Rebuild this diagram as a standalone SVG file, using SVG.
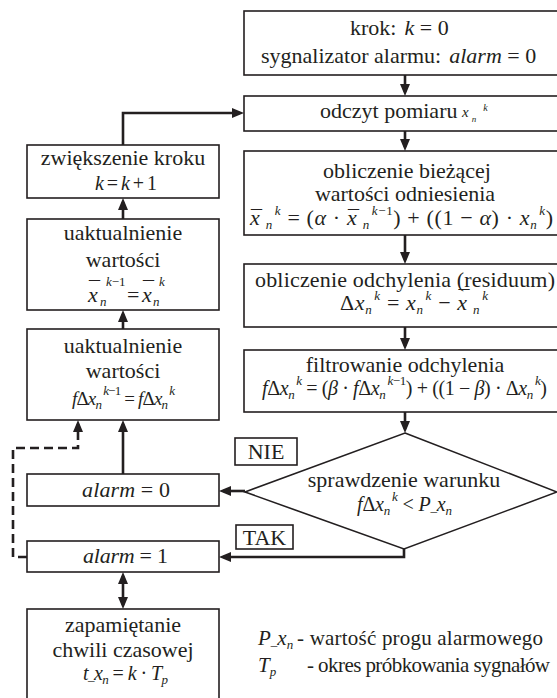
<svg xmlns="http://www.w3.org/2000/svg" width="557" height="698" viewBox="0 0 557 698">
<defs>
<style>
.bx{fill:#fff;stroke:#231f20;stroke-width:1.6}
.c{fill:none;stroke:#231f20;stroke-width:2.6}
.d{fill:none;stroke:#231f20;stroke-width:2.6;stroke-dasharray:9 5}
.t{font-family:"Liberation Serif","Times New Roman",serif;font-size:22px;fill:#231f20}
.m{text-anchor:middle}
.i{font-style:italic}
.s{font-size:13px}
.f20{font-size:20px}
.f19{font-size:19px}
.lg{font-size:21px}
</style>
<marker id="ah" markerUnits="userSpaceOnUse" markerWidth="12" markerHeight="10" viewBox="0 0 12 10" refX="8" refY="5" orient="auto-start-reverse"><path d="M0,0 L12,5 L0,10 z" fill="#231f20"/></marker>
</defs>
<rect width="557" height="698" fill="#fff"/>

<g id="start">
<rect class="bx" x="244" y="11" width="320" height="64"/>
<text class="t" x="350" y="35">krok:<tspan class="i" dx="8">k</tspan> = 0</text>
<text class="t" x="261" y="63">sygnalizator alarmu:<tspan class="i" dx="8">alarm</tspan> = 0</text>
</g>

<g id="read">
<rect class="bx" x="244" y="96" width="320" height="35"/>
<text class="t" x="320" y="118">odczyt pomiaru</text>
<text class="t i" x="462" y="117" style="font-size:15px">x<tspan style="font-size:9px" dx="3" dy="5">n</tspan><tspan style="font-size:10px" dx="7" dy="-11">k</tspan></text>
</g>

<g id="reference">
<rect class="bx" x="244" y="151" width="320" height="84"/>
<text class="t m" x="407" y="178">obliczenie bieżącej</text>
<text class="t m" x="405" y="201">wartości odniesienia</text>
<text class="t" x="250" y="225" textLength="303" lengthAdjust="spacing"><tspan class="i">x</tspan><tspan dx="-9.3">¯</tspan><tspan class="s i" dx="3" dy="4">n</tspan><tspan class="s i" dx="2" dy="-14">k</tspan><tspan dy="10"> = (</tspan><tspan class="i">α</tspan> · <tspan class="i">x</tspan><tspan dx="-9.3">¯</tspan><tspan class="s i" dx="3" dy="4">n</tspan><tspan class="s" dx="2" dy="-14"><tspan class="i">k</tspan>−1</tspan><tspan dy="10">) + ((1 − </tspan><tspan class="i">α</tspan>) · <tspan class="i">x</tspan><tspan class="s i" dy="4">n</tspan><tspan class="s i" dx="2" dy="-14">k</tspan><tspan dy="10">)</tspan></text>
</g>

<g id="residuum">
<rect class="bx" x="244" y="264" width="320" height="63"/>
<text class="t" x="255" y="287" textLength="300" lengthAdjust="spacing">obliczenie odchylenia (residuum)</text>
<text class="t" x="340" y="310" textLength="148" lengthAdjust="spacing">Δ<tspan class="i">x</tspan><tspan class="s i" dy="4">n</tspan><tspan class="s i" dx="2" dy="-14">k</tspan><tspan dy="10"> = </tspan><tspan class="i">x</tspan><tspan class="s i" dy="4">n</tspan><tspan class="s i" dx="2" dy="-14">k</tspan><tspan dy="10"> − </tspan><tspan class="i">x</tspan><tspan dx="-9.3" dy="-5">¯</tspan><tspan class="s i" dx="3" dy="9">n</tspan><tspan class="s i" dx="2" dy="-14">k</tspan></text>
</g>

<g id="filter">
<rect class="bx" x="244" y="350" width="320" height="62"/>
<text class="t m" x="405" y="372">filtrowanie odchylenia</text>
<text class="t f20" x="262" y="395" textLength="285" lengthAdjust="spacing"><tspan class="i">f</tspan>Δ<tspan class="i">x</tspan><tspan class="s i" dy="4">n</tspan><tspan class="s i" dx="2" dy="-14">k</tspan><tspan dy="10"> = (</tspan><tspan class="i">β</tspan> · <tspan class="i">f</tspan>Δ<tspan class="i">x</tspan><tspan class="s i" dy="4">n</tspan><tspan class="s" dx="2" dy="-14"><tspan class="i">k</tspan>−1</tspan><tspan dy="10">) + ((1 − </tspan><tspan class="i">β</tspan>) · Δ<tspan class="i">x</tspan><tspan class="s i" dy="4">n</tspan><tspan class="s i" dx="2" dy="-14">k</tspan><tspan dy="10">)</tspan></text>
</g>

<g id="decision">
<polygon class="bx" points="405,433 557,492 404,549 245,492"/>
<text class="t m" x="404" y="487">sprawdzenie warunku</text>
<text class="t f20" x="357" y="511" textLength="95" lengthAdjust="spacing"><tspan class="i">f</tspan>Δ<tspan class="i">x</tspan><tspan class="s i" dy="4">n</tspan><tspan class="s i" dx="2" dy="-14">k</tspan><tspan dy="10"> &lt; </tspan><tspan class="i">P</tspan><tspan class="s">_</tspan><tspan class="i">x</tspan><tspan class="s i" dy="4">n</tspan></text>
</g>

<g id="label-nie">
<rect class="bx" x="235" y="438" width="62" height="27"/>
<text class="t m" x="266" y="459">NIE</text>
</g>

<g id="label-tak">
<rect class="bx" x="236" y="525" width="57" height="24"/>
<text class="t m" x="264.5" y="545">TAK</text>
</g>

<g id="increment">
<rect class="bx" x="27" y="145" width="192" height="53"/>
<text class="t m" x="123" y="165">zwiększenie kroku</text>
<text class="t f20" x="95" y="190" textLength="62" lengthAdjust="spacing"><tspan class="i">k</tspan> = <tspan class="i">k</tspan> + 1</text>
</g>

<g id="update-x">
<rect class="bx" x="27" y="219" width="192" height="91"/>
<text class="t m" x="123" y="240">uaktualnienie</text>
<text class="t m" x="123" y="267">wartości</text>
<text class="t"><tspan x="89" y="296">¯</tspan><tspan class="i" x="88" y="302">x</tspan><tspan class="s i" x="100" y="306">n</tspan><tspan class="s" x="106" y="286"><tspan class="i">k</tspan>−1</tspan><tspan x="127" y="302">=</tspan><tspan x="143" y="296">¯</tspan><tspan class="i" x="142" y="302">x</tspan><tspan class="s i" x="153" y="306">n</tspan><tspan class="s i" x="159" y="286">k</tspan></text>
</g>

<g id="update-f">
<rect class="bx" x="27" y="329" width="192" height="91"/>
<text class="t m" x="123" y="353">uaktualnienie</text>
<text class="t m" x="123" y="378">wartości</text>
<text class="t f19" x="72" y="405" textLength="103" lengthAdjust="spacing"><tspan class="i">f</tspan>Δ<tspan class="i">x</tspan><tspan class="s i" dy="4">n</tspan><tspan class="s" dx="2" dy="-14"><tspan class="i">k</tspan>−1</tspan><tspan dy="10"> = </tspan><tspan class="i">f</tspan>Δ<tspan class="i">x</tspan><tspan class="s i" dy="4">n</tspan><tspan class="s i" dx="2" dy="-14">k</tspan></text>
</g>

<g id="alarm0">
<rect class="bx" x="27" y="474" width="192" height="32"/>
<text class="t" x="82" y="497" textLength="88" lengthAdjust="spacing"><tspan class="i">alarm</tspan> = 0</text>
</g>

<g id="alarm1">
<rect class="bx" x="27" y="541" width="192" height="31"/>
<text class="t" x="83" y="563" textLength="85" lengthAdjust="spacing"><tspan class="i">alarm</tspan> = 1</text>
</g>

<g id="store">
<rect class="bx" x="27" y="609" width="192" height="95"/>
<text class="t m" x="123" y="632">zapamiętanie</text>
<text class="t m" x="123" y="657">chwili czasowej</text>
<text class="t f20" x="83" y="680" textLength="85" lengthAdjust="spacing"><tspan class="i">t</tspan><tspan class="s">_</tspan><tspan class="i">x</tspan><tspan class="s i" dy="4">n</tspan><tspan dy="-4"> = </tspan><tspan class="i">k</tspan> · <tspan class="i">T</tspan><tspan class="s i" dy="4">p</tspan></text>
</g>

<g id="legend">
<text class="t lg" x="258" y="645"><tspan class="i">P</tspan><tspan class="s">_</tspan><tspan class="i">x</tspan><tspan class="s i" dy="4">n</tspan></text>
<text class="t lg" x="297" y="645" textLength="246" lengthAdjust="spacing">- wartość progu alarmowego</text>
<text class="t lg" x="258" y="672"><tspan class="i">T</tspan><tspan class="s i" dy="4">p</tspan></text>
<text class="t lg" x="307" y="672" textLength="243" lengthAdjust="spacing">- okres próbkowania sygnałów</text>
</g>

<g id="connectors">
<path class="c" d="M405,75 V92" marker-end="url(#ah)"/>
<path class="c" d="M405,131 V147" marker-end="url(#ah)"/>
<path class="c" d="M405,235 V260" marker-end="url(#ah)"/>
<path class="c" d="M405,327 V346" marker-end="url(#ah)"/>
<path class="c" d="M405,412 V429" marker-end="url(#ah)"/>
<path class="c" d="M245,491 H223" marker-end="url(#ah)"/>
<path class="c" d="M404,549 V557 H223" marker-end="url(#ah)"/>
<path class="c" d="M123,474 V424" marker-end="url(#ah)"/>
<path class="c" d="M123,329 V314" marker-end="url(#ah)"/>
<path class="c" d="M123,219 V202" marker-end="url(#ah)"/>
<path class="c" d="M123,145 V113 H240" marker-end="url(#ah)"/>
<path class="d" d="M27,557 H13 V448 H78 V424" marker-end="url(#ah)"/>
<path class="c" d="M123,576 V605" marker-start="url(#ah)" marker-end="url(#ah)"/>
</g>
</svg>
